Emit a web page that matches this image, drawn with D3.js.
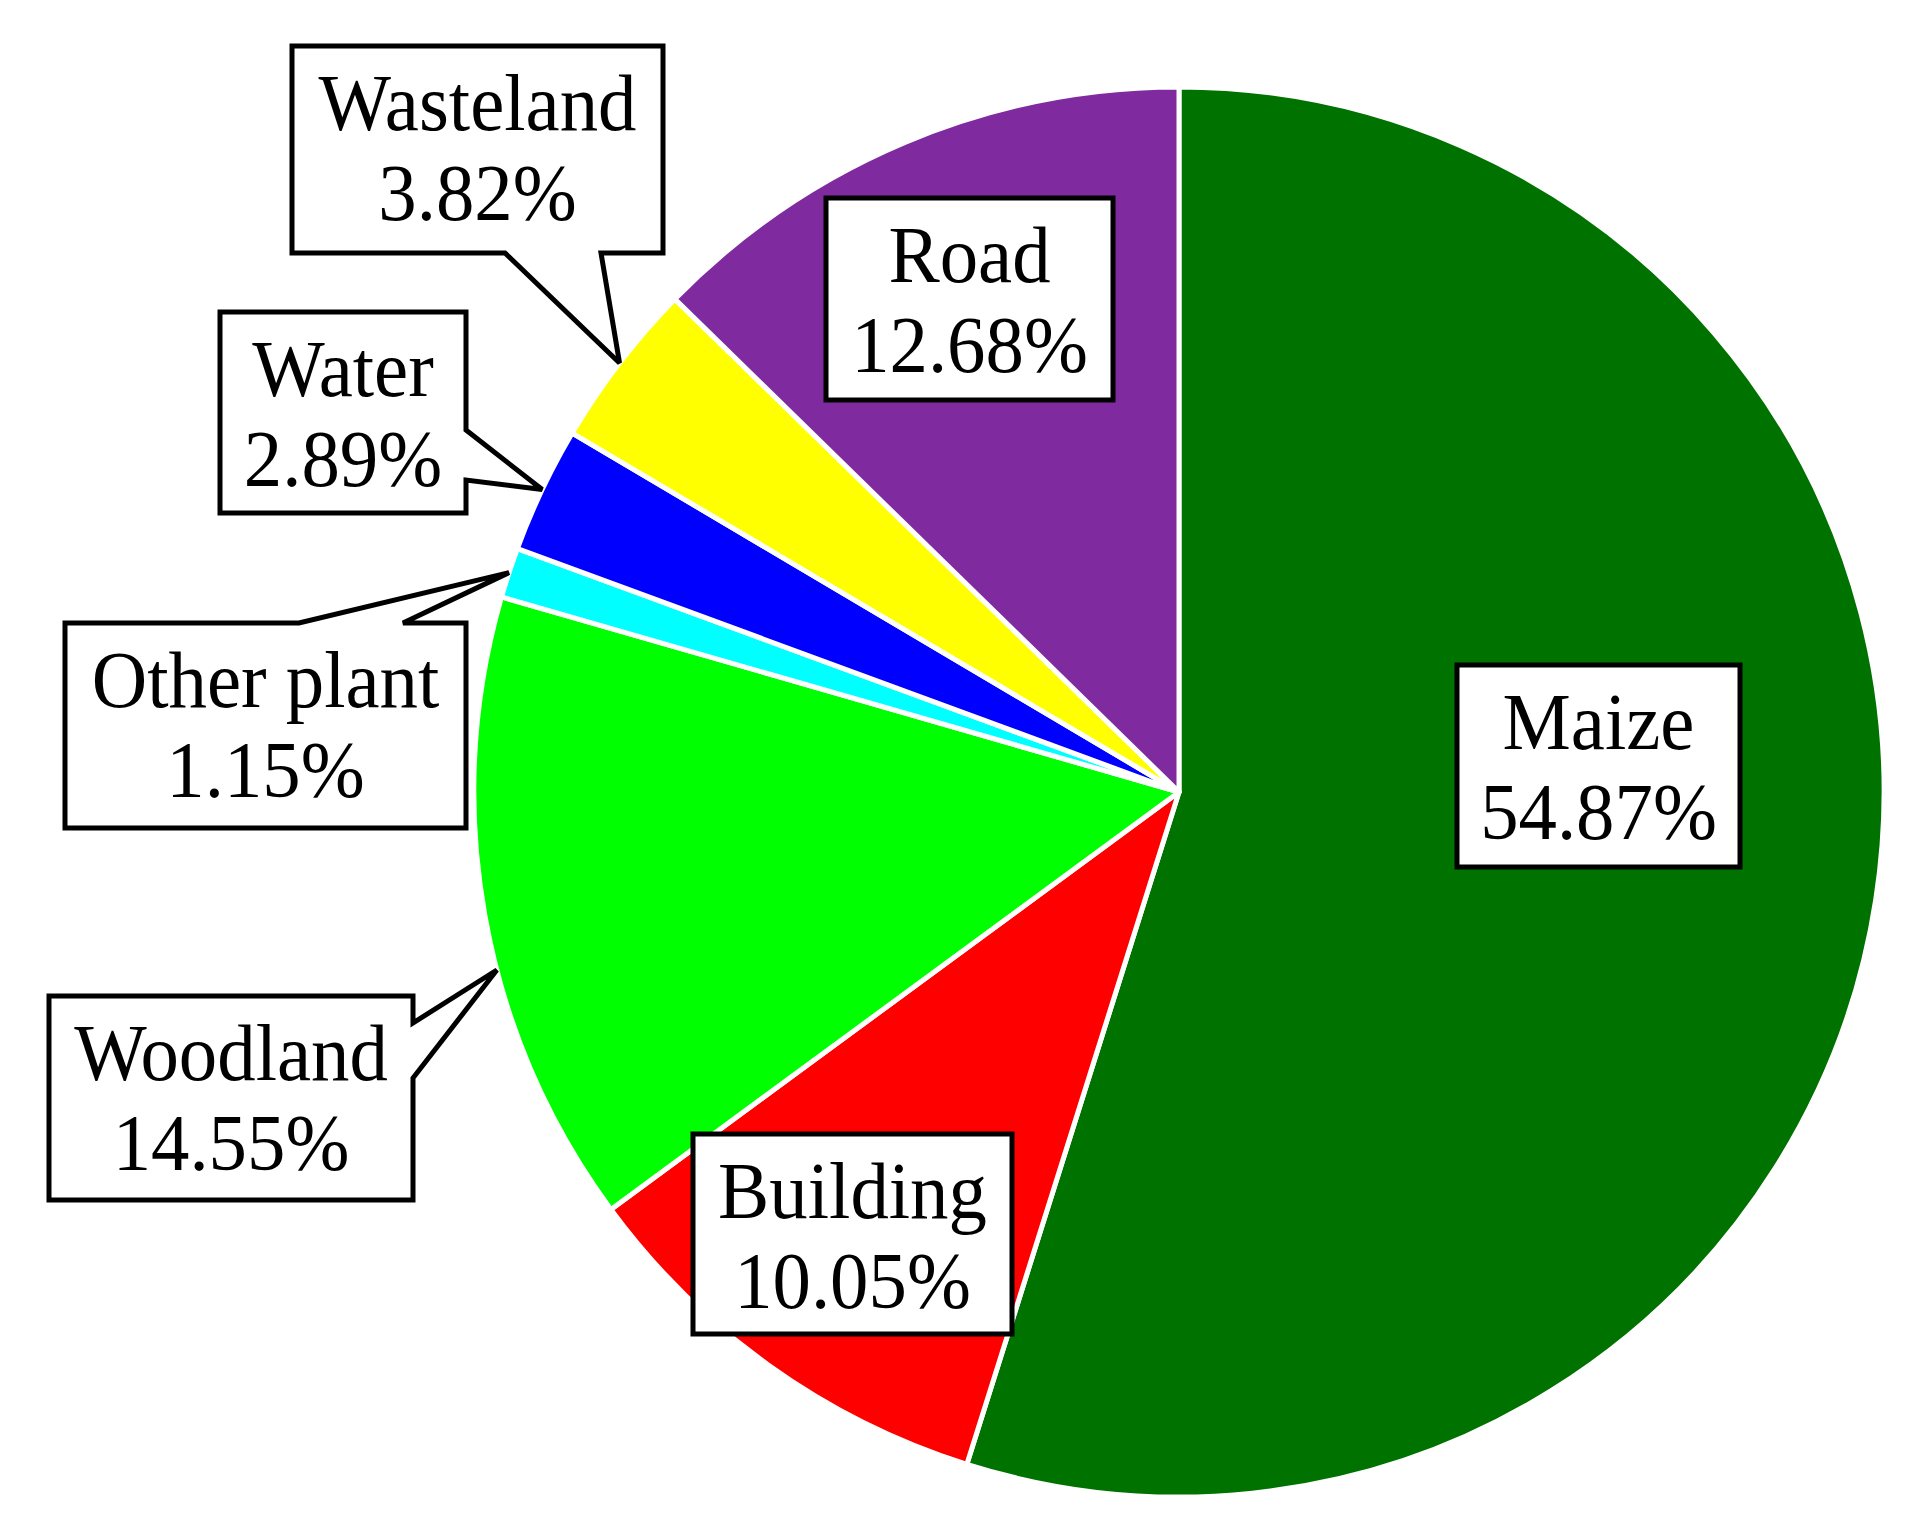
<!DOCTYPE html>
<html>
<head>
<meta charset="utf-8">
<script src="https://cdn.jsdelivr.net/npm/d3@7"></script>
<style>
  html, body { margin: 0; padding: 0; background: #ffffff; }
  svg { display: block; }
</style>
</head>
<body>
<script>
// ---- data ----
const categories = ["Maize", "Building", "Woodland", "Other plant", "Water", "Wasteland", "Road"];
const values = [54.87, 10.05, 14.55, 1.15, 2.89, 3.82, 12.68];
const colors = ["#007200", "#ff0000", "#00ff00", "#00ffff", "#0000ff", "#ffff00", "#7f2b9f"];

// ---- layout (label boxes, pixel geometry) ----
const W = 1916, H = 1532;
const cx = 1179, cy = 792, R = 705;
const boxes = [
  { x: 1457, y: 665, w: 283, h: 202, tail: null },
  { x: 693, y: 1134, w: 319, h: 200, tail: null },
  { x: 49, y: 996, w: 364, h: 204, tail: { side: "right", a: 1023, b: 1078, angOff: -4.5 } },
  { x: 65, y: 623, w: 401, h: 205, tail: { side: "top", a: 299, b: 403, angOff: 0 } },
  { x: 220, y: 312, w: 246, h: 201, tail: { side: "right", a: 430, b: 480, angOff: 0 } },
  { x: 292, y: 46, w: 371, h: 207, tail: { side: "bottom", a: 505, b: 601, angOff: 0 } },
  { x: 826, y: 198, w: 287, h: 202, tail: null }
];

const svg = d3.select("body").append("svg")
  .attr("width", W).attr("height", H)
  .style("background", "#ffffff");

const pie = d3.pie().sort(null).value(d => d);
const arcs = pie(values);
const arc = d3.arc().innerRadius(0).outerRadius(R);

const g = svg.append("g").attr("transform", `translate(${cx},${cy})`);
g.selectAll("path.slice")
  .data(arcs)
  .join("path")
  .attr("class", "slice")
  .attr("d", arc)
  .attr("fill", (d, i) => colors[i])
  .attr("stroke", "#ffffff")
  .attr("stroke-width", 5)
  .attr("stroke-linejoin", "round");

// ---- callout labels ----
function tipPoint(d, off) {
  const a = (d.startAngle + d.endAngle) / 2 + (off || 0) * Math.PI / 180;
  return [cx + R * Math.sin(a), cy - R * Math.cos(a)];
}

function calloutPath(b, tip) {
  const L = b.x, T = b.y, Rr = b.x + b.w, B = b.y + b.h;
  const t = b.tail;
  if (!t) return `M${L},${T}H${Rr}V${B}H${L}Z`;
  if (t.side === "bottom")
    return `M${L},${T}H${Rr}V${B}H${t.b}L${tip[0]},${tip[1]}L${t.a},${B}H${L}Z`;
  if (t.side === "top")
    return `M${L},${T}H${t.a}L${tip[0]},${tip[1]}L${t.b},${T}H${Rr}V${B}H${L}Z`;
  if (t.side === "right")
    return `M${L},${T}H${Rr}V${t.a}L${tip[0]},${tip[1]}L${Rr},${t.b}V${B}H${L}Z`;
  return `M${L},${T}H${Rr}V${B}H${L}Z`;
}

const labels = svg.append("g");
arcs.forEach((d, i) => {
  const b = boxes[i];
  const tip = b.tail ? tipPoint(d, b.tail.angOff) : null;
  labels.append("path")
    .attr("d", calloutPath(b, tip))
    .attr("fill", "#ffffff")
    .attr("stroke", "#000000")
    .attr("stroke-width", 5)
    .attr("stroke-linejoin", "miter")
    .attr("stroke-miterlimit", 3);
  const tx = b.x + b.w / 2;
  const lines = [categories[i], values[i].toFixed(2) + "%"];
  lines.forEach((s, k) => {
    labels.append("text")
      .attr("transform", `translate(${tx},${b.y + 84 + k * 90}) scale(0.96,1)`)
      .attr("text-anchor", "middle")
      .attr("font-family", "'Liberation Serif', 'Times New Roman', serif")
      .attr("font-size", 80)
      .attr("fill", "#000000")
      .text(s);
  });
});
</script>
</body>
</html>
